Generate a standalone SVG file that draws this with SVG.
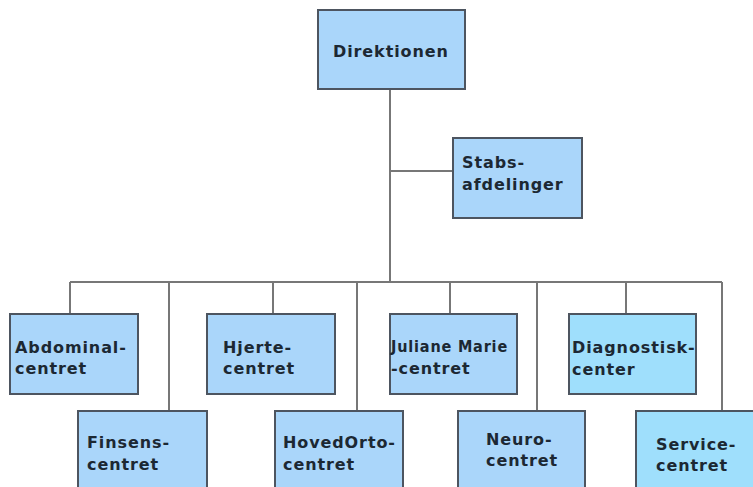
<svg xmlns="http://www.w3.org/2000/svg" width="753" height="487" viewBox="0 0 753 487">
<style>
.box{fill:#aad6fa;stroke:#4d5560;stroke-width:2}
.box2{fill:#9fdffc;stroke:#4d5560;stroke-width:2}
.lbl{font-family:"DejaVu Sans",Verdana,sans-serif;font-weight:bold;font-size:16px;letter-spacing:0.9px;fill:#1c2833}
.con{stroke:#777;stroke-width:2;fill:none}
</style>
<rect width="753" height="487" fill="#fff"/>
<g id="connectors">
<path class="con" d="M390,89V282M390,171H453M70,282H722M70,282V314M169,282V411M273,282V314M357,282V411M450,282V314M537,282V411M626,282V314M722,282V411"/>
</g>
<g id="direktionen"><rect class="box" x="318" y="10" width="147" height="79"/><text class="lbl" x="333" y="57">Direktionen</text></g>
<g id="stabs"><rect class="box" x="453" y="138" width="129" height="80"/><text class="lbl" x="462" y="168">Stabs-</text><text class="lbl" x="462" y="190">afdelinger</text></g>
<g id="abdominal"><rect class="box" x="10" y="314" width="128" height="80"/><text class="lbl" x="15" y="353">Abdominal-</text><text class="lbl" x="15" y="374">centret</text></g>
<g id="hjerte"><rect class="box" x="207" y="314" width="128" height="80"/><text class="lbl" x="223" y="353">Hjerte-</text><text class="lbl" x="223" y="374">centret</text></g>
<g id="juliane"><rect class="box" x="390" y="314" width="127" height="80"/><text class="lbl" x="391" y="352" textLength="117" lengthAdjust="spacingAndGlyphs">Juliane Marie</text><text class="lbl" x="391" y="374">-centret</text></g>
<g id="diagnostisk"><rect class="box2" x="569" y="314" width="127" height="80"/><text class="lbl" x="572" y="353">Diagnostisk-</text><text class="lbl" x="572" y="375">center</text></g>
<g id="finsens"><rect class="box" x="78" y="411" width="129" height="90"/><text class="lbl" x="87" y="448">Finsens-</text><text class="lbl" x="87" y="470">centret</text></g>
<g id="hovedorto"><rect class="box" x="275" y="411" width="128" height="90"/><text class="lbl" x="283" y="448">HovedOrto-</text><text class="lbl" x="283" y="470">centret</text></g>
<g id="neuro"><rect class="box" x="458" y="411" width="127" height="90"/><text class="lbl" x="486" y="445">Neuro-</text><text class="lbl" x="486" y="466">centret</text></g>
<g id="service"><rect class="box2" x="636" y="411" width="130" height="90"/><text class="lbl" x="656" y="450">Service-</text><text class="lbl" x="656" y="471">centret</text></g>
</svg>
